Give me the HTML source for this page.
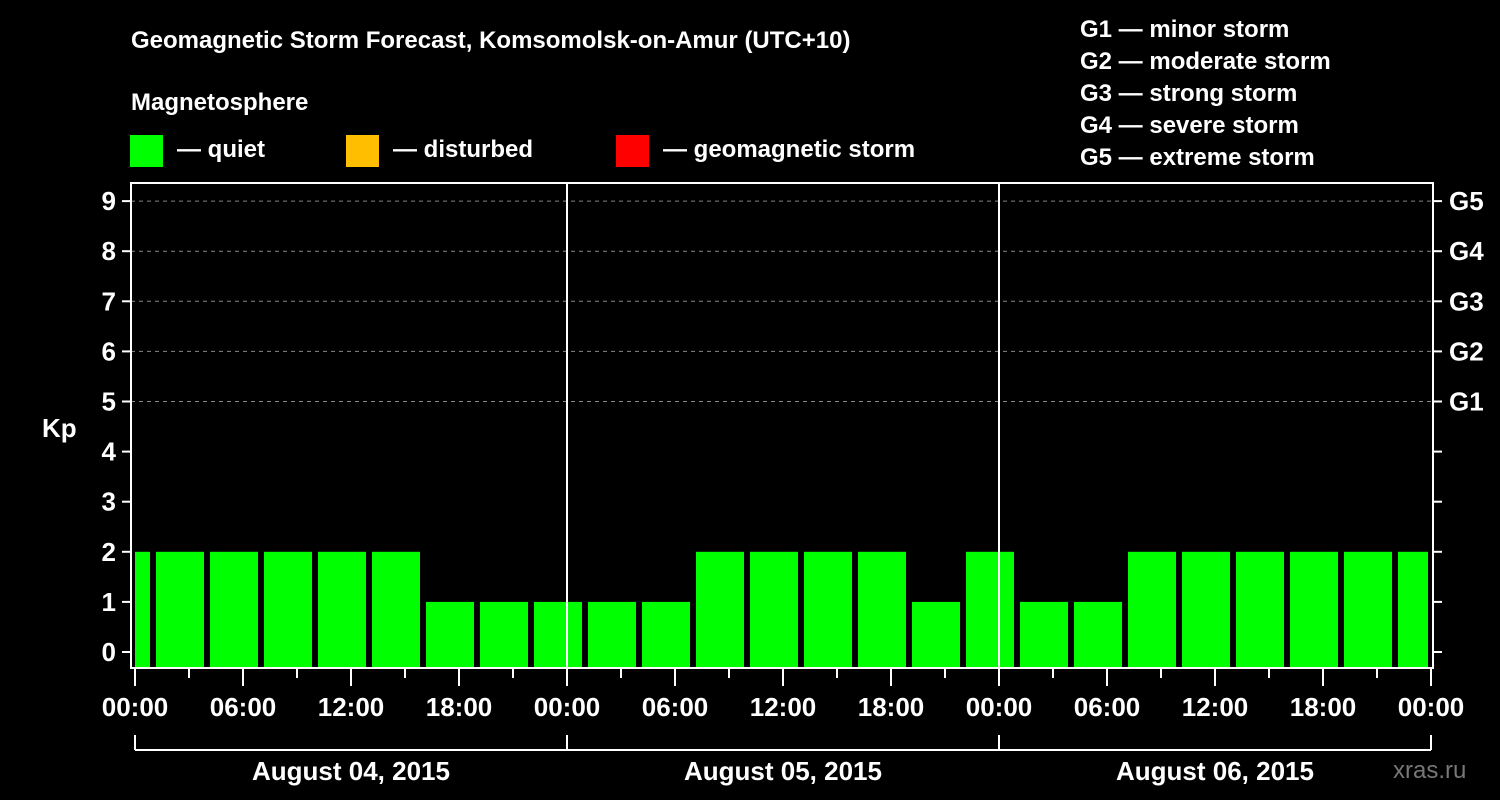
<!DOCTYPE html>
<html><head><meta charset="utf-8"><style>
html,body{margin:0;padding:0;background:#000;}
svg{display:block;font-family:"Liberation Sans",sans-serif;font-weight:bold;}
</style></head><body>
<svg id="chart" width="1500" height="800" viewBox="0 0 1500 800">
<rect width="1500" height="800" fill="#000"/>
<text x="131" y="48" fill="#fff" font-size="24">Geomagnetic Storm Forecast, Komsomolsk-on-Amur (UTC+10)</text>
<text x="131" y="110" fill="#fff" font-size="24">Magnetosphere</text>
<g><rect x="130" y="135" width="33" height="32" fill="#00ff00"/><text x="177" y="157" fill="#fff" font-size="24">— quiet</text></g>
<g><rect x="346" y="135" width="33" height="32" fill="#ffbf00"/><text x="393" y="157" fill="#fff" font-size="24">— disturbed</text></g>
<g><rect x="616" y="135" width="33" height="32" fill="#ff0000"/><text x="663" y="157" fill="#fff" font-size="24">— geomagnetic storm</text></g>
<g fill="#fff" font-size="24">
<text x="1080" y="37">G1 — minor storm</text>
<text x="1080" y="69">G2 — moderate storm</text>
<text x="1080" y="101">G3 — strong storm</text>
<text x="1080" y="133">G4 — severe storm</text>
<text x="1080" y="165">G5 — extreme storm</text>
</g>
<text x="42" y="437" fill="#fff" font-size="26">Kp</text>
<g id="grid"></g>
<g id="bars"></g>
<g id="axes"></g>
<text x="1393" y="778" fill="#777" font-size="24" font-weight="normal">xras.ru</text>
</svg>
<script>
const kpValues = [2,2,2,2,2,2,1,1,1,1,1,2,2,2,2,1,2,1,1,2,2,2,2,2,2];
const blockStartHour = -2; // first 3h block start, hours from first midnight
const dayLabels = ["August 04, 2015","August 05, 2015","August 06, 2015"];
const xTickLabels = ["00:00","06:00","12:00","18:00","00:00","06:00","12:00","18:00","00:00","06:00","12:00","18:00","00:00"];
const yTicks = [0,1,2,3,4,5,6,7,8,9];
const gLabels = ["G1","G2","G3","G4","G5"];
const gLevels = [5,6,7,8,9];

const NS="http://www.w3.org/2000/svg";
const X0=135, PXH=18, Y0=652, PXK=50.1, L=131, R=1433, T=183, B=668;
const xS=h=>X0+h*PXH, yS=k=>Y0-k*PXK;
function mk(tag,attrs,parent){const e=document.createElementNS(NS,tag);for(const k in attrs)e.setAttribute(k,attrs[k]);parent.appendChild(e);return e;}
const grid=document.getElementById('grid'),bars=document.getElementById('bars'),axes=document.getElementById('axes');
const totalH=(xTickLabels.length-1)*6;
// grid lines
yTicks.forEach(k=>{ if(k>=5){const l=mk('line',{x1:L,x2:R,y1:yS(k),y2:yS(k),stroke:'#888','stroke-dasharray':'4,4','stroke-width':1},grid);

}});
// bars
kpValues.forEach((v,i)=>{
  let a=xS(blockStartHour+i*3)+3, b=xS(blockStartHour+i*3+3)-3;
  a=Math.max(a,X0); b=Math.min(b,xS(totalH)-3);
  if(b<=a) return;
  const col=v>=5?'#ff0000':(v>=4?'#ffbf00':'#00ff00');
  const r=mk('rect',{x:a,y:yS(v),width:b-a,height:B-yS(v),fill:col},bars);
  
  
});
// day separators
for(let d=1;d<dayLabels.length;d++){const l=mk('line',{x1:xS(d*24),x2:xS(d*24),y1:T,y2:B,stroke:'#fff','stroke-width':2},axes);

}
// frame
const f=mk('rect',{x:L,y:T,width:R-L,height:B-T,fill:'none',stroke:'#fff','stroke-width':2},axes);


// y ticks
yTicks.forEach(k=>{
  mk('line',{x1:122,x2:L,y1:yS(k),y2:yS(k),stroke:'#fff','stroke-width':2},axes);
  mk('line',{x1:R,x2:1442,y1:yS(k),y2:yS(k),stroke:'#fff','stroke-width':2},axes);
  const t=mk('text',{x:116,y:yS(k)+9,fill:'#fff','font-size':26,'text-anchor':'end'},axes);t.textContent=k;
  
  
});
gLabels.forEach((g,i)=>{const t=mk('text',{x:1449,y:yS(gLevels[i])+9,fill:'#fff','font-size':26},axes);t.textContent=g;

});
// x ticks
for(let h=0;h<=totalH;h+=3){const major=h%6===0;
  mk('line',{x1:xS(h),x2:xS(h),y1:B,y2:major?686:678,stroke:'#fff','stroke-width':2},axes);}
xTickLabels.forEach((s,i)=>{const t=mk('text',{x:xS(i*6),y:716,fill:'#fff','font-size':26,'text-anchor':'middle'},axes);t.textContent=s;

});
// day bracket
mk('line',{x1:X0,x2:xS(totalH),y1:750,y2:750,stroke:'#fff','stroke-width':2},axes);
for(let d=0;d<=dayLabels.length;d++) mk('line',{x1:xS(d*24),x2:xS(d*24),y1:735,y2:750,stroke:'#fff','stroke-width':2},axes);
dayLabels.forEach((s,d)=>{const t=mk('text',{x:xS(d*24+12),y:780,fill:'#fff','font-size':26,'text-anchor':'middle'},axes);t.textContent=s;

});
</script>
</body></html>
